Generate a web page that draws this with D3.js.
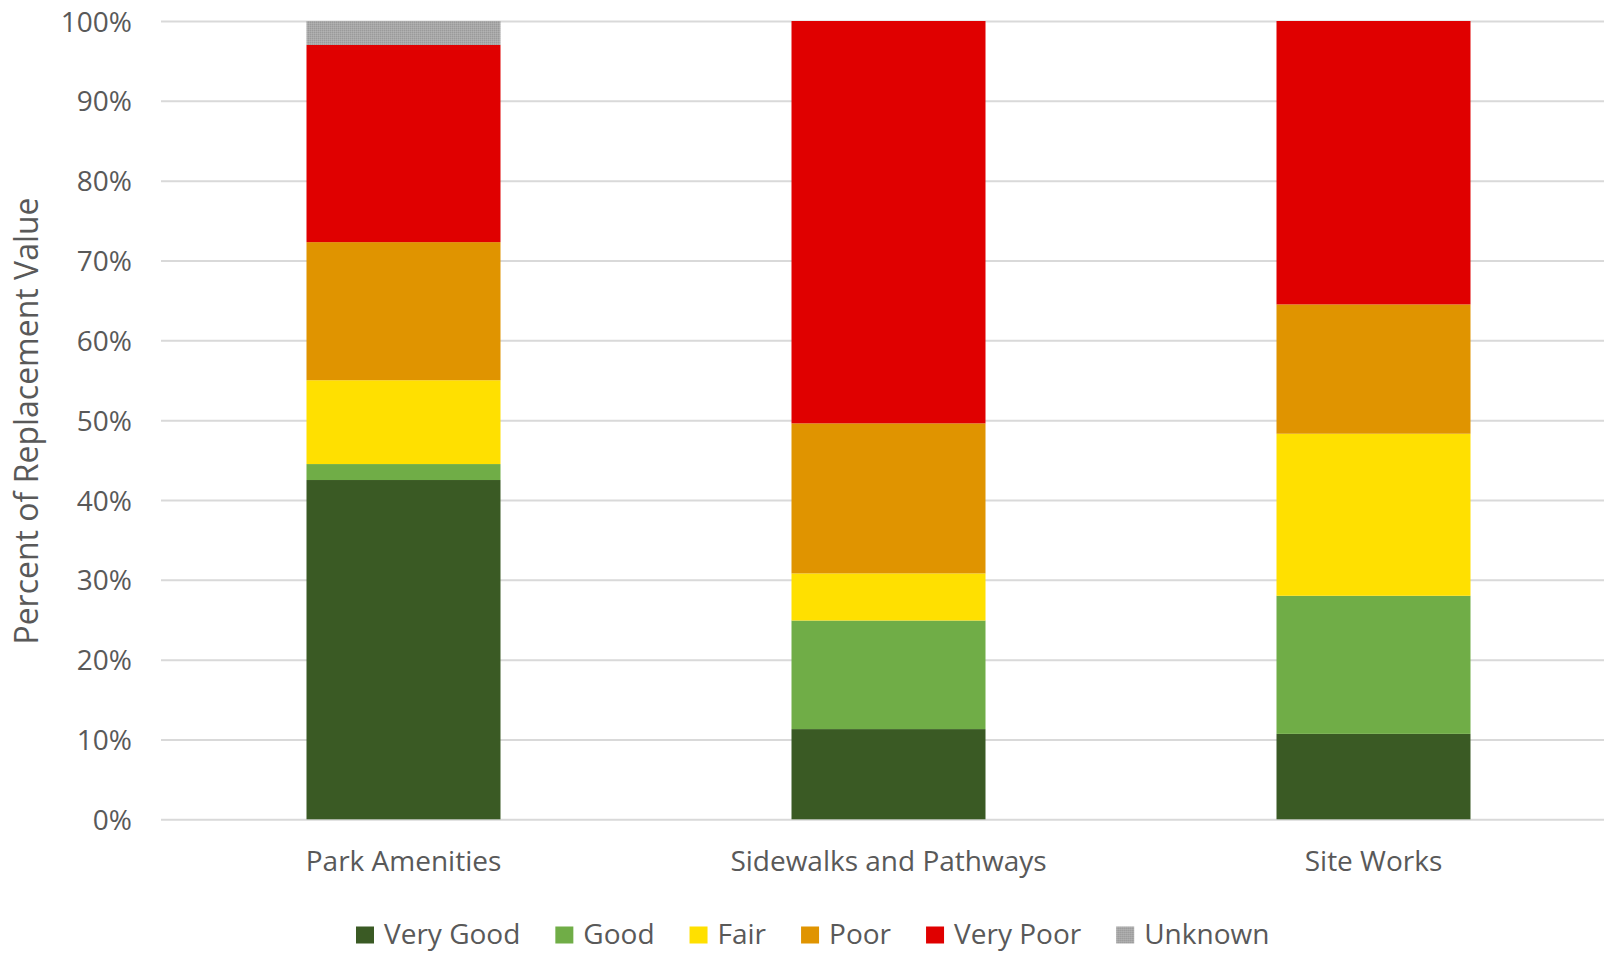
<!DOCTYPE html>
<html>
<head>
<meta charset="utf-8">
<script src="https://cdn.jsdelivr.net/npm/d3@7"></script>
<style>
  html, body { margin: 0; padding: 0; background: #ffffff; }
  svg { display: block; font-family: "Open Sans", "Noto Sans", sans-serif; }
</style>
</head>
<body>
<svg id="chart" width="1604" height="953"></svg>
<script>
// Asset categories
const categories = ["Park Amenities", "Sidewalks and Pathways", "Site Works"];

// Condition ratings (bottom to top of each stack)
const conditions = ["Very Good", "Good", "Fair", "Poor", "Very Poor", "Unknown"];

// Share of replacement value (%) for each condition, per category
const veryGood = [42.5, 11.3, 10.7];
const good     = [2.0, 13.6, 17.3];
const fair     = [10.5, 5.9, 20.3];
const poor     = [17.3, 18.8, 16.2];
const veryPoor = [24.7, 50.4, 35.5];
const unknown  = [3.0, 0, 0];

// Y axis ticks
const yTicks = [0, 10, 20, 30, 40, 50, 60, 70, 80, 90, 100];

const colors = ["#3A5A24", "#70AD47", "#FFE000", "#E09400", "#E00000", "#A6A6A6"];

const FONT = '"Open Sans", "Noto Sans", sans-serif';

const seriesValues = [veryGood, good, fair, poor, veryPoor, unknown];
const rows = categories.map((c, i) => {
  const r = { category: c };
  conditions.forEach((k, j) => { r[k] = seriesValues[j][i]; });
  return r;
});

const svg = d3.select("#chart");
const W = 1604, H = 953;
const plotLeft = 161, plotRight = 1616, plotTop = 21, plotBottom = 819.3;

const x = d3.scaleBand()
  .domain(categories)
  .range([plotLeft, plotRight])
  .paddingInner(0.6)
  .paddingOuter(0.3);

const y = d3.scaleLinear().domain([0, 100]).range([plotBottom, plotTop]);

const color = d3.scaleOrdinal().domain(conditions).range(colors);

// Fine-grain texture for the "Unknown" fill
const defs = svg.append("defs");
const pat = defs.append("pattern")
  .attr("id", "unknownFill")
  .attr("patternUnits", "userSpaceOnUse")
  .attr("width", 2).attr("height", 2);
pat.append("rect").attr("width", 2).attr("height", 2).attr("fill", "#A8A8A8");
pat.append("rect").attr("width", 1).attr("height", 1).attr("fill", "#9A9A9A");
pat.append("rect").attr("x", 1).attr("y", 1).attr("width", 1).attr("height", 1).attr("fill", "#B2B2B2");

const fillFor = k => k === "Unknown" ? "url(#unknownFill)" : color(k);

// Gridlines and tick labels
const yAxis = d3.axisLeft(y)
  .tickValues(yTicks)
  .tickFormat(d => d + "%")
  .tickSize(-(W - plotLeft))
  .tickPadding(29);

const gy = svg.append("g")
  .attr("transform", `translate(${plotLeft},0)`)
  .call(yAxis)
  .attr("font-family", FONT)
  .attr("font-size", 28);
gy.select(".domain").remove();
gy.selectAll(".tick line").attr("stroke", "#D9D9D9").attr("stroke-width", 2);
gy.selectAll(".tick text")
  .attr("fill", "#595959")
  .attr("dy", "0.36em");

// Stacked bars
const stack = d3.stack().keys(conditions);
const layers = stack(rows);

svg.append("g")
  .selectAll("g")
  .data(layers)
  .join("g")
  .attr("fill", d => fillFor(d.key))
  .selectAll("rect")
  .data(d => d)
  .join("rect")
  .attr("x", d => x(d.data.category))
  .attr("width", x.bandwidth())
  .attr("y", d => y(d[1]))
  .attr("height", d => y(d[0]) - y(d[1]));

// Category labels
const xAxis = d3.axisBottom(x).tickSize(0).tickPadding(0);
const gx = svg.append("g")
  .attr("transform", `translate(0,${plotBottom})`)
  .call(xAxis)
  .attr("font-family", FONT)
  .attr("font-size", 28);
gx.select(".domain").remove();
gx.selectAll(".tick text")
  .attr("fill", "#595959")
  .attr("dy", null)
  .attr("y", 52);

// Y axis title
svg.append("text")
  .attr("transform", "translate(38,421) rotate(-90)")
  .attr("text-anchor", "middle")
  .attr("fill", "#595959")
  .attr("font-size", 32)
  .text("Percent of Replacement Value");

// Legend
const legend = svg.append("g").attr("transform", "translate(356,0)");
let lx = 0;
conditions.forEach(k => {
  const item = legend.append("g").attr("transform", `translate(${lx},0)`);
  item.append("rect")
    .attr("x", 0).attr("y", 926.5)
    .attr("width", 18).attr("height", 17)
    .attr("fill", fillFor(k));
  const t = item.append("text")
    .attr("x", 28).attr("y", 944)
    .attr("fill", "#595959")
    .attr("font-size", 28)
    .text(k);
  const w = t.node().getComputedTextLength();
  lx += 28 + w + 35;
});
</script>
</body>
</html>
